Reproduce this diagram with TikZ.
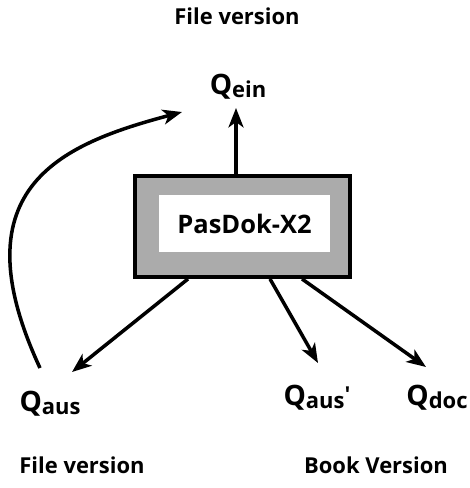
\documentclass[tikz,border=0pt]{standalone}
\usepackage{fontspec}
\setmainfont{Open Sans}
\usepackage{tikz}
\usetikzlibrary{arrows.meta}
\newcommand{\qsub}[1]{Q\raisebox{-0.08em}{\fontsize{12.5}{14}\selectfont #1}}

\begin{document}
\begin{tikzpicture}[x=0.02cm, y=0.02cm, >={Stealth[length=11pt,width=8.5pt,inset=3pt]},
    caption/.style={font=\fontsize{12.5}{15}\selectfont\bfseries, inner sep=0pt},
    qnode/.style={font=\fontsize{16}{18}\selectfont\bfseries, inner sep=0pt},
    flow/.style={->, line width=2pt}]
  \useasboundingbox (0,0) rectangle (470,488);
  % captions
  \node[caption] (filetop) at (237,472) {File version};
  \node[caption] (filebot) at (82,23)   {File version};
  \node[caption] (book)    at (376,23)  {Book Version};
  % program box
  \node[draw, line width=2.2pt, fill=black!33, minimum width=215*0.02cm,
        minimum height=101*0.02cm] (box) at (242.5,261.5) {};
  \node[fill=white, minimum width=171*0.02cm, minimum height=57*0.02cm,
        font=\fontsize{14.5}{17}\selectfont\bfseries] (prog) at (244.5,264.5) {PasDok-X2};
  % files
  \node[qnode] (ein)  at (238,401) {\qsub{ein}};
  \node[qnode] (aus)  at (50,84)   {\qsub{aus}};
  \node[qnode] (aus2) at (317,90)  {\qsub{aus\raisebox{0.25em}{\textquotesingle}}};
  \node[qnode] (doc)  at (437,90)  {\qsub{doc}};
  % arrow ends
  \coordinate (einTip)  at (236,380);
  \coordinate (ausTip)  at (72,116);
  \coordinate (aus2Tip) at (318,125);
  \coordinate (docTip)  at (426,121);
  \coordinate (loopEnd) at (182,376);
  \coordinate (loopBeg) at (40,120);
  % flows
  \draw[flow] (einTip |- box.north) -- (einTip);
  \draw[flow] (box.south -| 188,0) -- (ausTip);
  \draw[flow] (box.south -| 270,0) -- (aus2Tip);
  \draw[flow] (box.south -| 302,0) -- (docTip);
  \draw[flow] (loopBeg) .. controls (-45,303) and (66,345) .. (loopEnd);
\end{tikzpicture}
\end{document}
